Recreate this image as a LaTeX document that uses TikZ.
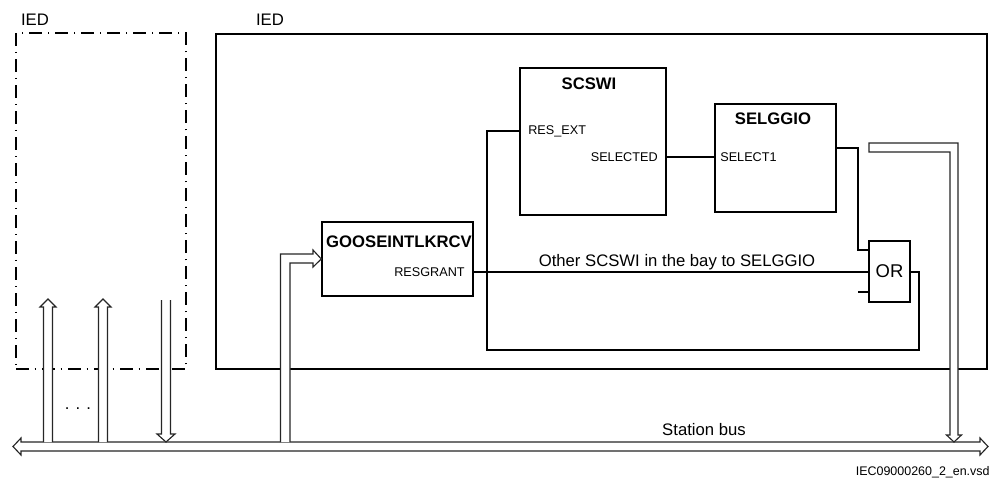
\documentclass[tikz,border=0pt]{standalone}
\usepackage{fontspec}
\setmainfont{Liberation Sans}
\usetikzlibrary{calc}
\begin{document}
\begin{tikzpicture}[x=0.02cm,y=-0.02cm,
  blk/.style={draw, line width=0.8pt, rectangle, inner sep=0pt},
  ied/.style={draw, line width=0.8pt, rectangle, inner sep=0pt},
  iedx/.style={draw, line width=1.6pt, rectangle, inner sep=0pt,
     dash pattern=on 7.2pt off 3.4pt on 0.8pt off 3.4pt},
  ttl/.style={font=\fontsize{9.5}{11}\selectfont\bfseries, inner sep=0pt},
  port/.style={font=\fontsize{7.2}{9}\selectfont, inner sep=0pt},
  lbl/.style={font=\fontsize{9.5}{11}\selectfont, inner sep=0pt},
  hollow/.style={draw=black!85, fill=white, line width=0.65pt, line join=miter},
  wire/.style={draw, line width=0.75pt}]
\useasboundingbox (0,0) rectangle (992,488);

% IED frames
\node[iedx, minimum width=3.4cm, minimum height=6.72cm] (iedL) at (101,201) {};
\node[ied, minimum width=15.42cm, minimum height=6.7cm] (iedR) at (601.5,201.5) {};
\node[lbl] (iedLlbl) at (35,20) {IED};
\node[lbl] (iedRlbl) at (270,20) {IED};

% function blocks
\node[blk, minimum width=3.02cm, minimum height=1.48cm] (goose) at (397.5,259) {};
\node[ttl] (gooseT) at (399,242) {GOOSEINTLKRCV};
\node[blk, minimum width=2.92cm, minimum height=2.94cm] (scswi) at (593,141.5) {};
\node[ttl] (scswiT) at (589,84) {SCSWI};
\node[blk, minimum width=2.42cm, minimum height=2.16cm] (selggio) at (775.5,158) {};
\node[ttl] (selggioT) at (773,119) {SELGGIO};
\node[blk, minimum width=0.82cm, minimum height=1.22cm,
      font=\fontsize{10.5}{12}\selectfont] (or) at (889.5,271.5) {OR};

% port labels
\node[port, anchor=west] (resextL) at (528,131) {RES\_EXT};
\node[port, anchor=east] (selectedL) at (658,157) {SELECTED};
\node[port, anchor=west] (select1L) at (720,157) {SELECT1};
\node[port, anchor=east] (resgrantL) at (465,272) {RESGRANT};

% port coordinates
\coordinate (pResExt) at (520,131);
\coordinate (pSelected) at (666,157);
\coordinate (pSelect1) at (715,157);
\coordinate (pSelOut) at (836,148);
\coordinate (pResGrant) at (473,272);
\coordinate (pOrIn1) at (869,250);
\coordinate (pOrIn2) at (869,272);
\coordinate (pOrIn3) at (869,292);
\coordinate (pOrOut) at (910,272);

% wires
\draw[wire] (pSelected) -- (pSelect1);
\draw[wire] (pSelOut) -- ++(22,0) |- (pOrIn1);
\draw[wire] (pResGrant) -- (pOrIn2);
\draw[wire] (pOrIn3) -- ++(-11,0);
\draw[wire] (pOrOut) -- ++(9,0) -- ++(0,78) -| ($(pResExt)+(-33,0)$) -- (pResExt);
\node[lbl] (otherL) at (677,262) {Other SCSWI in the bay to SELGGIO};

% station bus
\path[hollow] (13,446.5) -- (21,438) -- (21,442) -- (980,442) -- (980,438)
   -- (988,446.5) -- (980,455) -- (980,451) -- (21,451) -- (21,455) -- cycle;
\node[lbl] (busL) at (704,430) {Station bus};

% vertical hollow arrows at the left IED
\path[hollow] (43.5,442) -- (43.5,307) -- (40,307) -- (48,299) -- (56,307) -- (52.5,307) -- (52.5,442);
\path[hollow] (98.5,442) -- (98.5,307) -- (95,307) -- (103,299) -- (111,307) -- (107.5,307) -- (107.5,442);
\path[hollow] (161.5,300) -- (161.5,434) -- (157,434) -- (166,442) -- (175,434) -- (170.5,434) -- (170.5,300);
\node[lbl] (dotsL) at (78,409) {. . .};

% GOOSE input arrow
\path[hollow] (290,442) -- (290,263) -- (313,263) -- (313,267) -- (goose.west) -- (313,250)
   -- (313,254) -- (280.5,254) -- (280.5,442);

% SELGGIO to station bus arrow
\path[hollow] (869,143) -- (958,143) -- (958,435) -- (961.5,435) -- (954,442) -- (946.5,435)
   -- (950,435) -- (950,152) -- (869,152) -- cycle;

\node[font=\fontsize{7.1}{9}\selectfont, anchor=east, inner sep=0pt] (docid) at (990,472) {IEC09000260\_2\_en.vsd};
\end{tikzpicture}
\end{document}
